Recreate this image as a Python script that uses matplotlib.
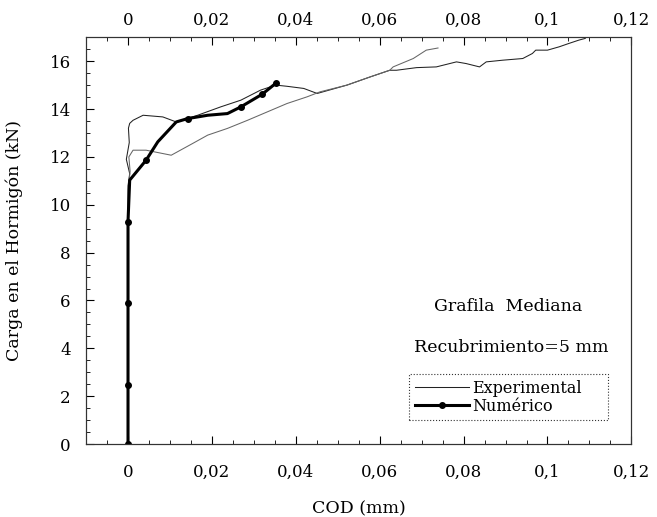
import numpy as np
import matplotlib
matplotlib.use("Agg")
import matplotlib.pyplot as plt
from matplotlib.ticker import MultipleLocator, FuncFormatter

plt.rcParams['font.family'] = ['DejaVu Serif']

# experimental curve A (upper start, bump near 0.037, flat tail)
exp_a_x = [0, 0, 0, 0.0004, -0.0004, 0.0003, 0.0001, 0.0004, 0.0012, 0.0036, 0.0083,
           0.0115, 0.0166, 0.0221, 0.0269, 0.0316, 0.0352, 0.0379, 0.0419, 0.0451,
           0.0522, 0.0577, 0.0624, 0.064, 0.0688, 0.0735, 0.0783, 0.0806, 0.0838,
           0.0854, 0.0893, 0.0941, 0.0964, 0.0972, 0.1, 0.1028, 0.1051, 0.1075, 0.109]
exp_a_y = [0, 5, 10.8, 11.3, 11.9, 12.6, 13.2, 13.4, 13.53, 13.74, 13.67,
           13.46, 13.74, 14.09, 14.37, 14.79, 15.0, 14.95, 14.86, 14.65,
           15.0, 15.34, 15.62, 15.62, 15.73, 15.76, 15.97, 15.9, 15.76,
           15.97, 16.04, 16.11, 16.32, 16.46, 16.46, 16.6, 16.74, 16.88, 16.95]

# experimental curve B (lower start, steeper tail)
exp_b_x = [0, 0, 0.0005, 0.0002, 0.0012, 0.0043, 0.0103, 0.0154, 0.019,
           0.0237, 0.0285, 0.0332, 0.0379, 0.0427, 0.0458, 0.0522, 0.0577,
           0.0624, 0.0632, 0.068, 0.0711, 0.0739]
exp_b_y = [0, 10.6, 11.4, 12.0, 12.28, 12.28, 12.07, 12.56, 12.91,
           13.19, 13.53, 13.88, 14.23, 14.51, 14.72, 15.0, 15.34,
           15.62, 15.76, 16.11, 16.46, 16.55]

# numerical model
num_x = [0, 0, 0, 0, 0.0004, 0.0043, 0.0071, 0.0115, 0.0142, 0.019, 0.0237,
         0.0269, 0.032, 0.0352]
num_y = [0, 2.46, 5.9, 9.3, 11.03, 11.86, 12.63, 13.46, 13.6, 13.74, 13.81,
         14.09, 14.62, 15.07]
num_marks = [0, 1, 2, 3, 5, 8, 11, 12, 13]

x_ticks = [0, 0.02, 0.04, 0.06, 0.08, 0.1, 0.12]
x_labels = ['0', '0,02', '0,04', '0,06', '0,08', '0,1', '0,12']

fig = plt.figure(figsize=(6.57, 5.17), dpi=100)
ax = fig.add_axes([0.131, 0.141, 0.830, 0.787])

ax.plot(exp_a_x, exp_a_y, color='#222222', lw=0.75, label='Experimental')
ax.plot(exp_b_x, exp_b_y, color='#666666', lw=0.75)
ax.plot(num_x, num_y, color='black', lw=2.2, marker='o', markersize=4,
        markevery=num_marks, label='Numérico')

ax.set_xlim(-0.01, 0.12)
ax.set_ylim(0, 17)

ax.set_xticks(x_ticks, x_labels)
ax.xaxis.set_minor_locator(MultipleLocator(0.005))
ax.yaxis.set_major_locator(MultipleLocator(2))
ax.yaxis.set_minor_locator(MultipleLocator(0.5))
ax.tick_params(which='both', direction='in', top=False, right=False)
ax.tick_params(which='major', length=6, width=0.8, labelsize=12)
ax.tick_params(which='minor', length=3, width=0.6)
ax.tick_params(axis='x', which='major', pad=14)
ax.tick_params(axis='y', which='major', pad=11)

top = ax.twiny()
top.set_xlim(ax.get_xlim())
top.set_xticks(x_ticks, x_labels)
top.xaxis.set_minor_locator(MultipleLocator(0.005))
top.tick_params(which='both', direction='in')
top.tick_params(which='major', length=6, width=0.8, labelsize=12, pad=6)
top.tick_params(which='minor', length=3, width=0.6)

for a in (ax, top):
    for sp in a.spines.values():
        sp.set_linewidth(0.8)
        sp.set_color('#333333')

ax.set_xlabel('COD (mm)', fontsize=12.5)
ax.xaxis.set_label_coords(0.5, -0.138)
ax.set_ylabel('Carga en el Hormigón (kN)', fontsize=12.5)
ax.yaxis.set_label_coords(-0.115, 0.5)

ax.text(0.0906, 5.75, 'Grafila  Mediana', fontsize=12.5, ha='center', va='center')
ax.text(0.0913, 4.05, 'Recubrimiento=5 mm', fontsize=12.5, ha='center', va='center')

leg = ax.legend(loc='lower left', bbox_to_anchor=(0.593, 0.059, 0.365, 0.13),
                mode='expand', fontsize=11.5, handlelength=3.4, handletextpad=0.15,
                borderpad=0.35, labelspacing=0.05, fancybox=False, numpoints=1,
                framealpha=1, borderaxespad=0)
leg.get_frame().set_edgecolor('#333333')
leg.get_frame().set_linewidth(0.8)
leg.get_frame().set_linestyle(':')

fig.savefig('out.png', dpi=100)
